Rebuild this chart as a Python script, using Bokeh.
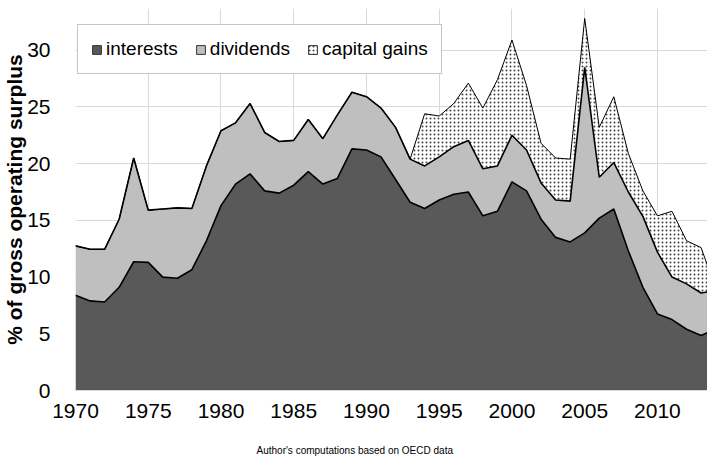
from bokeh.plotting import figure
from bokeh.models import ColumnDataSource, FixedTicker, Legend, LegendItem, Title, Range1d
from bokeh.embed import file_html
from bokeh.resources import INLINE
from bokeh.transform import stack

years = list(range(1970, 2015))
interests = [8.4, 7.9, 7.8, 9.1, 11.35, 11.3, 10.0, 9.9, 10.65, 13.2,
             16.3, 18.2, 19.1, 17.6, 17.4, 18.1, 19.3, 18.2, 18.7, 21.3,
             21.2, 20.6, 18.6, 16.6, 16.05, 16.8, 17.3, 17.5, 15.4, 15.8,
             18.4, 17.6, 15.1, 13.5, 13.1, 13.9, 15.2, 16.0, 12.3, 9.1,
             6.75, 6.25, 5.4, 4.85, 5.4]
dividends = [4.35, 4.55, 4.65, 6.0, 9.15, 4.6, 6.0, 6.2, 5.4, 6.6,
             6.6, 5.4, 6.2, 5.15, 4.55, 3.95, 4.6, 4.0, 5.6, 5.0,
             4.7, 4.3, 4.6, 3.8, 3.75, 3.8, 4.2, 4.55, 4.15, 4.0,
             4.1, 3.6, 3.2, 3.3, 3.6, 14.6, 3.6, 4.1, 5.2, 6.25,
             5.45, 3.75, 4.0, 3.75, 3.4]
capital_gains = [0, 0, 0, 0, 0, 0, 0, 0, 0, 0,
                 0, 0, 0, 0, 0, 0, 0, 0, 0, 0,
                 0, 0, 0, 0, 4.6, 3.6, 3.8, 5.05, 5.35, 7.6,
                 8.4, 5.7, 3.5, 3.7, 3.7, 4.3, 4.4, 5.8, 3.4, 2.25,
                 3.2, 5.8, 3.8, 4.0, 0.2]
x_ticks = [1970, 1975, 1980, 1985, 1990, 1995, 2000, 2005, 2010]
y_ticks = [0, 5, 10, 15, 20, 25, 30]
series_names = ["interests", "dividends", "capital gains"]
series_colors = ["#595959", "#bfbfbf", "white"]
caption = "Author's computations based on OECD data"
y_label = "% of gross operating surplus"

src = ColumnDataSource(dict(year=years, interests=interests,
                            dividends=dividends, capital=capital_gains))

FONT = "Liberation Sans"
HATCH = dict(hatch_pattern="dot", hatch_color="#444444", hatch_scale=4, hatch_weight=0.5)

p = figure(width=707, height=466, output_backend="svg", toolbar_location=None,
           x_range=Range1d(1970, 2013.44), y_range=Range1d(0, 33.68),
           min_border_left=75, min_border_right=0, min_border_top=8,
           min_border_bottom=74)
p.outline_line_color = None
p.background_fill_color = "white"

p.varea(x="year", y1=0, y2=stack("interests"), source=src, fill_color=series_colors[0])
p.varea(x="year", y1=stack("interests"), y2=stack("interests", "dividends"),
        source=src, fill_color=series_colors[1])
p.varea(x="year", y1=stack("interests", "dividends"),
        y2=stack("interests", "dividends", "capital"), source=src,
        fill_color=series_colors[2], **HATCH)
p.line(x="year", y=stack("interests", "dividends", "capital"), source=src,
       line_color="black", line_width=1)
p.line(x="year", y=stack("interests", "dividends"), source=src,
       line_color="black", line_width=1.6)
p.line(x="year", y=stack("interests"), source=src,
       line_color="black", line_width=1.6)

# legend swatches (no visible data: NaN coordinates)
nan = float("nan")
q1 = p.quad(left=[nan], right=[nan], top=[nan], bottom=[nan],
            fill_color=series_colors[0], line_color="#333333")
q2 = p.quad(left=[nan], right=[nan], top=[nan], bottom=[nan],
            fill_color=series_colors[1], line_color="#333333")
q3 = p.quad(left=[nan], right=[nan], top=[nan], bottom=[nan],
            fill_color=series_colors[2], line_color="#333333", **HATCH)
legend = Legend(items=[LegendItem(label=series_names[0], renderers=[q1]),
                       LegendItem(label=series_names[1], renderers=[q2]),
                       LegendItem(label=series_names[2], renderers=[q3])],
                orientation="horizontal", location=(2, 316), margin=0,
                padding=13, spacing=17, glyph_width=11, glyph_height=11,
                label_standoff=4, label_text_font=FONT, label_text_font_size="19px",
                label_text_color="#000000", border_line_color="#8c8c8c",
                border_line_width=1, background_fill_color="white",
                background_fill_alpha=1)
p.add_layout(legend, "center")

p.xaxis.ticker = FixedTicker(ticks=x_ticks)
p.yaxis.ticker = FixedTicker(ticks=y_ticks)
p.xgrid.ticker = FixedTicker(ticks=x_ticks)
p.ygrid.ticker = FixedTicker(ticks=y_ticks)
p.grid.grid_line_color = "#d9d9d9"
p.grid.grid_line_width = 1

for ax in (p.xaxis, p.yaxis):
    ax.major_tick_line_color = None
    ax.minor_tick_line_color = None
    ax.major_label_text_font = FONT
    ax.major_label_text_font_size = "21px"
    ax.major_label_text_color = "#000000"
p.xaxis.axis_line_color = "#d9d9d9"
p.yaxis.axis_line_color = None
p.xaxis.major_label_standoff = 7
p.yaxis.major_label_standoff = 19
p.yaxis.axis_label = y_label
p.yaxis.axis_label_text_font = FONT
p.yaxis.axis_label_text_font_style = "bold"
p.yaxis.axis_label_text_font_size = "21px"
p.yaxis.axis_label_text_color = "#000000"
p.yaxis.axis_label_standoff = -2

t = Title(text="\n" + caption, align="left", offset=181, standoff=22,
          text_font="'Liberation Sans Narrow', 'Liberation Sans'",
          text_font_size="10px", text_font_style="normal", text_color="#000000")
p.add_layout(t, "below")

open("out.html", "w").write(file_html(p, INLINE))
